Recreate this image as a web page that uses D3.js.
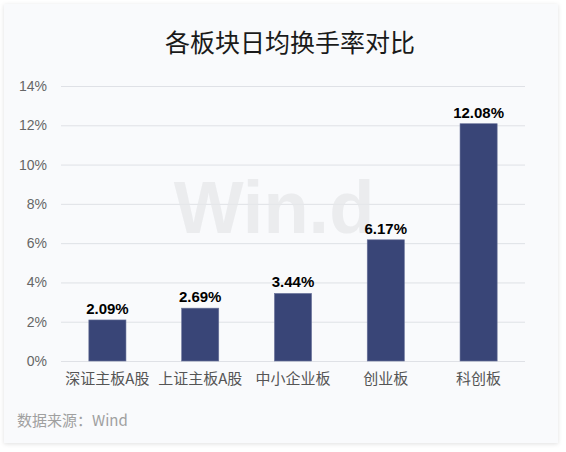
<!DOCTYPE html>
<html>
<head>
<meta charset="utf-8">
<script src="https://cdn.jsdelivr.net/npm/d3@7"></script>
<style>
  html, body { margin: 0; padding: 0; background: #ffffff; }
  svg { display: block; }
</style>
</head>
<body>
<div id="chart"></div>
<script>
const categories = ['深证主板A股', '上证主板A股', '中小企业板', '创业板', '科创板'];
const turnover = [2.09, 2.69, 3.44, 6.17, 12.08];
const yTicks = [0, 2, 4, 6, 8, 10, 12, 14];

const width = 566, height = 452;
const margin = {top: 86, right: 41, bottom: 91, left: 61};
const cw = width - margin.left - margin.right;
const ch = height - margin.top - margin.bottom;

const svg = d3.select('#chart').append('svg').attr('width', width).attr('height', height);

// card with soft shadow
const defs = svg.append('defs');
const f = defs.append('filter').attr('id', 'shadow').attr('x', '-5%').attr('y', '-5%').attr('width', '110%').attr('height', '110%');
f.append('feDropShadow').attr('dx', 0).attr('dy', 1).attr('stdDeviation', 2).attr('flood-color', '#000').attr('flood-opacity', 0.12);

svg.append('rect')
  .attr('x', 4).attr('y', 4).attr('width', 554).attr('height', 439)
  .attr('fill', '#f9fafc')
  .attr('filter', 'url(#shadow)');

svg.append('text')
  .attr('x', 290).attr('y', 52)
  .attr('text-anchor', 'middle')
  .attr('font-family', '"Noto Sans CJK SC", sans-serif')
  .attr('font-size', 25)
  .attr('fill', '#1a1a1a')
  .text('各板块日均换手率对比');

const g = svg.append('g').attr('transform', `translate(${margin.left}, ${margin.top})`);

const xScale = d3.scaleBand().domain(categories).range([0, cw]).paddingInner(0.6).paddingOuter(0.3);
const yScale = d3.scaleLinear().domain([0, 14]).range([ch, 0]);

// gridlines
g.append('g')
  .attr('class', 'grid')
  .call(d3.axisLeft(yScale).tickValues(yTicks).tickSize(-cw).tickFormat(''))
  .call(s => s.select('.domain').remove())
  .selectAll('line').attr('stroke', '#dfe1e6').attr('stroke-width', 1);

// watermark
g.append('text')
  .attr('x', 274 - margin.left).attr('y', 233 - margin.top)
  .attr('text-anchor', 'middle')
  .attr('font-family', '"Liberation Sans", Arial, sans-serif')
  .attr('font-weight', 'bold')
  .attr('font-size', 74)
  .attr('fill', '#e6e7ea')
  .attr('fill-opacity', 0.75)
  .text('Win.d');

// y axis
g.append('g')
  .attr('class', 'y-axis')
  .call(d3.axisLeft(yScale).tickValues(yTicks).tickSize(0).tickPadding(14).tickFormat(d => `${d}%`))
  .call(s => s.select('.domain').remove())
  .selectAll('text')
  .attr('font-family', '"Liberation Sans", Arial, sans-serif')
  .attr('font-size', 14)
  .attr('fill', '#666');

// x axis
g.append('g')
  .attr('class', 'x-axis')
  .attr('transform', `translate(0, ${ch})`)
  .call(d3.axisBottom(xScale).tickSize(0).tickPadding(12))
  .call(s => s.select('.domain').remove())
  .selectAll('text')
  .attr('font-family', '"Noto Sans CJK SC", sans-serif')
  .attr('font-size', 15)
  .attr('fill', '#555');

const data = categories.map((c, i) => ({name: c, value: turnover[i]}));

g.selectAll('rect.bar')
  .data(data)
  .join('rect')
  .attr('class', 'bar')
  .attr('x', d => xScale(d.name))
  .attr('y', d => yScale(d.value))
  .attr('width', xScale.bandwidth())
  .attr('height', d => ch - yScale(d.value))
  .attr('fill', '#394577')
  .attr('stroke', '#6a739a')
  .attr('stroke-width', 0.6);

g.selectAll('text.label')
  .data(data)
  .join('text')
  .attr('class', 'label')
  .attr('x', d => xScale(d.name) + xScale.bandwidth() / 2)
  .attr('y', d => yScale(d.value) - 6)
  .attr('text-anchor', 'middle')
  .attr('font-family', '"Liberation Sans", Arial, sans-serif')
  .attr('font-weight', 'bold')
  .attr('font-size', 15)
  .attr('fill', '#000')
  .text(d => `${d.value.toFixed(2)}%`);

svg.append('text')
  .attr('x', 17).attr('y', 426)
  .attr('font-family', '"Noto Sans CJK SC", sans-serif')
  .attr('font-size', 15)
  .attr('fill', '#a0a0a0')
  .text('数据来源：Wind');
</script>
</body>
</html>
